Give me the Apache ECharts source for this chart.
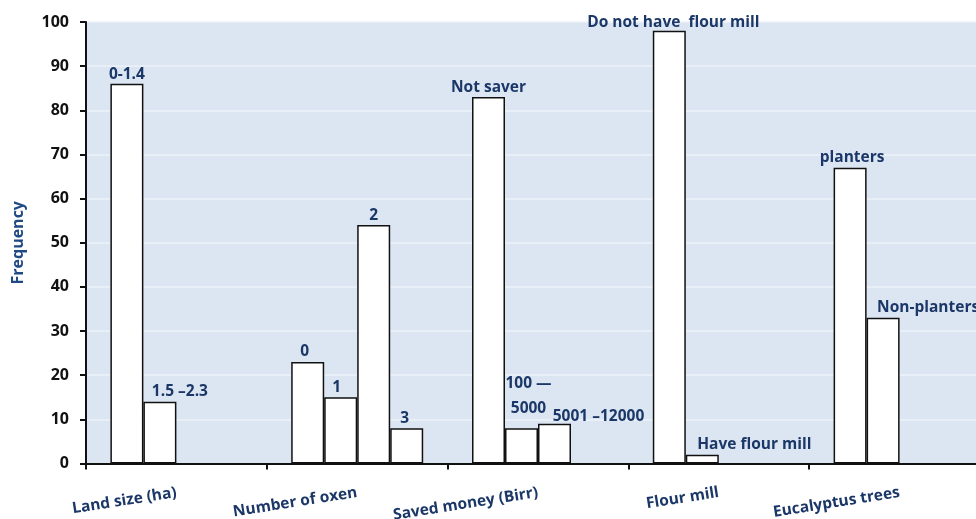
<!DOCTYPE html>
<html>
<head>
<meta charset="utf-8">
<script src="https://cdn.jsdelivr.net/npm/echarts@6/dist/echarts.min.js"></script>
<style>
  html, body { margin: 0; padding: 0; background: #ffffff; }
  #chart { width: 976px; height: 519px; }
</style>
</head>
<body>
<div id="chart"></div>
<script>
// Household characteristics: frequency of respondents per group
const categories = ['Land size (ha)', 'Number of oxen', 'Saved money (Birr)', 'Flour mill', 'Eucalyptus trees'];

// One series per position inside a group (up to four groups per characteristic)
const groupA = [86, 23, 83, 98, 67];
const groupB = [14, 15, 8, 2, 33];
const groupC = [null, 54, 9, null, null];
const groupD = [null, 8, null, null, null];

// Group names written above the bars
const namesA = ['0-1.4', '0', 'Not saver', 'Do not have  flour mill', 'planters'];
const namesB = ['1.5 \u20132.3', '1', '100 \u2014\n5000', 'Have flour mill', 'Non-planters'];
const namesC = [null, '2', '5001 \u201312000', null, null];
const namesD = [null, '3', null, null, null];

// Frequency axis
const yMin = 0;
const yMax = 100;
const yStep = 10;

// Label nudges (pixels) so the group names sit where they read best
const nudges = [
  [[0, 1], [-3, 0], [0, 1], [4, 2], [2, 0]],
  [[20, 0], [-4, 0], [7, -5], [52, 0], [45, 0]],
  [null, [0, 0], [44, 3], null, null],
  [null, [-2, 0], null, null, null]
];

const navy = '#1b3768';
const fontFamily = '"Open Sans", "Liberation Sans", sans-serif';

function buildSeries(values, names, offsets) {
  return {
    type: 'bar',
    barWidth: 33,
    barGap: '0%',
    itemStyle: { color: '#ffffff', borderColor: '#111111', borderWidth: 1.5 },
    data: values.map((v, i) => {
      const text = names[i] || '';
      const label = {
        show: v !== null,
        position: 'top',
        distance: 2,
        formatter: text,
        offset: offsets[i] || [0, 0],
        color: navy,
        fontFamily: fontFamily,
        fontWeight: 'bold',
        fontSize: 15.5
      };
      if (text.indexOf('\n') >= 0) label.lineHeight = 25;
      return { value: v, label: label };
    }),
    animation: false
  };
}

const chart = echarts.init(document.getElementById('chart'), null, { renderer: 'canvas' });

chart.setOption({
  animation: false,
  backgroundColor: '#ffffff',
  grid: {
    left: 86,
    top: 22,
    width: 904,
    height: 441.5,
    show: true,
    backgroundColor: '#dce6f2',
    borderWidth: 0,
    containLabel: false,
    outerBoundsMode: 'none'
  },
  xAxis: {
    type: 'category',
    data: categories,
    axisLine: { show: true, lineStyle: { color: '#111111', width: 2 } },
    axisTick: { show: true, length: 6, lineStyle: { color: '#111111', width: 2 } },
    axisLabel: {
      interval: 0,
      rotate: 9,
      margin: 29,
      color: navy,
      fontFamily: fontFamily,
      fontWeight: 'bold',
      fontSize: 15.5
    },
    splitLine: { show: false }
  },
  yAxis: {
    type: 'value',
    min: yMin,
    max: yMax,
    interval: yStep,
    name: 'Frequency',
    nameLocation: 'middle',
    nameGap: 60,
    nameTextStyle: {
      color: '#1f4a84',
      fontFamily: fontFamily,
      fontWeight: 'bold',
      fontSize: 16
    },
    axisLine: { show: true, lineStyle: { color: '#111111', width: 2 } },
    axisTick: { show: true, length: 6, lineStyle: { color: '#111111', width: 2 } },
    axisLabel: {
      margin: 17,
      color: '#111111',
      fontFamily: fontFamily,
      fontWeight: 'bold',
      fontSize: 16
    },
    splitLine: { show: true, lineStyle: { color: '#edf2f9', width: 1.5 } }
  },
  series: [
    buildSeries(groupA, namesA, nudges[0]),
    buildSeries(groupB, namesB, nudges[1]),
    buildSeries(groupC, namesC, nudges[2]),
    buildSeries(groupD, namesD, nudges[3])
  ]
});
</script>
</body>
</html>
